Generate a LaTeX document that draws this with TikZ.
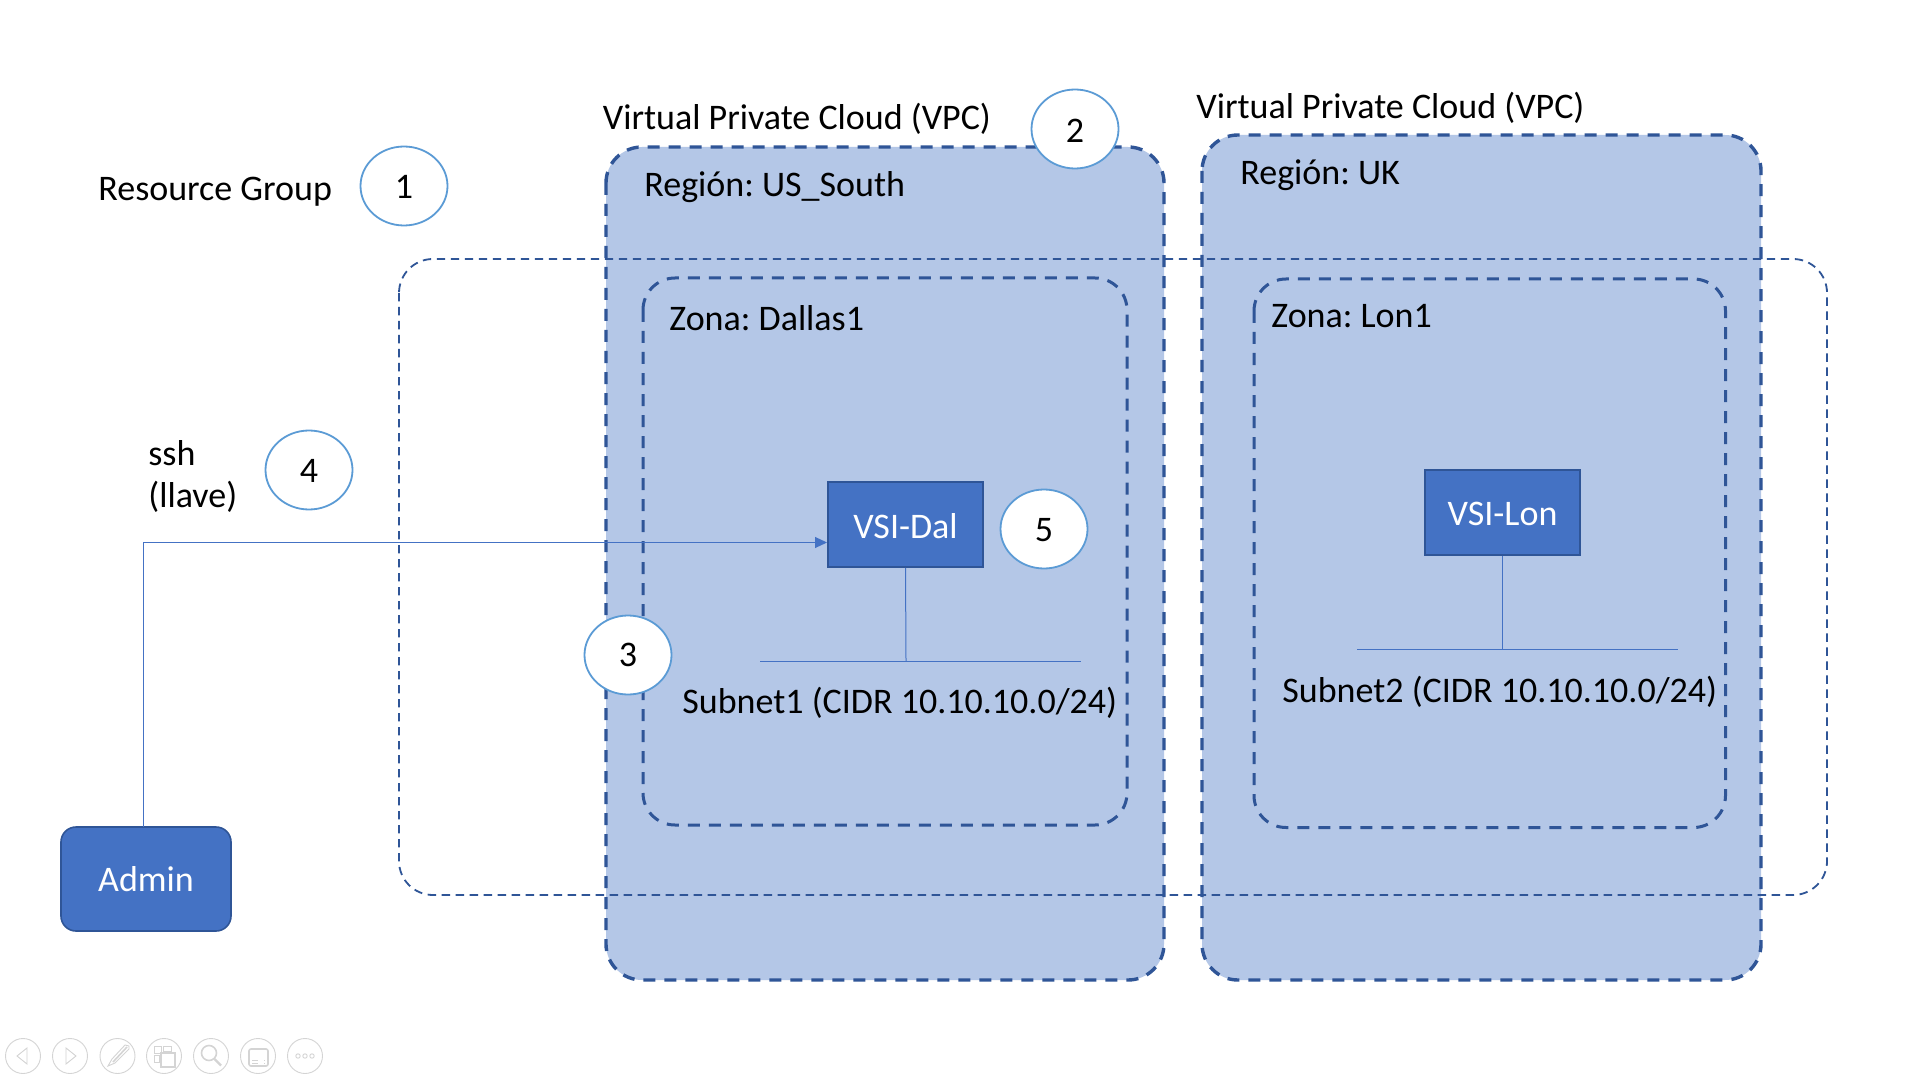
\documentclass[tikz,border=0pt]{standalone}
\usepackage{fontspec}
\setmainfont{Carlito}
\usetikzlibrary{arrows.meta,shapes.geometric}
\definecolor{vpcfill}{HTML}{B4C7E7}
\definecolor{dashblue}{HTML}{2F5597}
\definecolor{boxblue}{HTML}{4472C4}
\definecolor{ringblue}{HTML}{5B9BD5}
\definecolor{toolgray}{HTML}{D4D4D4}
\newcommand{\dn}[1]{\raisebox{-0.7pt}[\height][\depth]{#1}}
\tikzset{
  x=0.5pt,y=-0.5pt,
  vpcbox/.style={draw=dashblue,fill=vpcfill,line width=1.7pt,dash pattern=on 6pt off 4.5pt,rounded corners=18pt},
  zonebox/.style={draw=dashblue,line width=1.5pt,dash pattern=on 6pt off 4.5pt,rounded corners=16pt},
  rgbox/.style={draw=dashblue,line width=0.9pt,dash pattern=on 4.2pt off 2.8pt,rounded corners=17pt},
  lbl/.style={anchor=base west,inner sep=0pt,font=\fontsize{18}{18}\selectfont\frenchspacing,text=black},
  numcirc/.style={ellipse,draw=ringblue,fill=white,line width=0.9pt,minimum width=43.5pt,minimum height=39.5pt,inner sep=0pt,font=\fontsize{18}{18}\selectfont},
  vsibox/.style={draw=dashblue,fill=boxblue,line width=0.8pt,minimum width=77.5pt,minimum height=42.5pt,inner sep=0pt,text=white,font=\fontsize{18}{18}\selectfont},
  adminbox/.style={draw=dashblue,fill=boxblue,line width=0.8pt,rounded corners=7.5pt,minimum width=85pt,minimum height=52pt,inner sep=0pt,text=white,font=\fontsize{18}{18}\selectfont},
  conn/.style={draw=boxblue,line width=0.5pt},
  tool/.style={draw=toolgray,line width=0.45pt},
}
\begin{document}
\begin{tikzpicture}
\useasboundingbox (0,0) rectangle (1920,1080);
\fill[white] (0,0) rectangle (1920,1080);
% VPC panels
\draw[vpcbox] (606,147) rectangle (1164,980);
\draw[vpcbox] (1202,135) rectangle (1761,980);
% Zones
\draw[zonebox] (643,278) rectangle (1127,825);
\draw[zonebox] (1254,279) rectangle (1725.5,827.5);
% Resource group
\draw[rgbox] (399,259) rectangle (1827,895);
% Boxes
\node[vsibox] (vsidal) at (905.5,524.5) {\dn{VSI-Dal}};
\node[vsibox] (vsilon) at (1502.5,512.5) {\dn{VSI-Lon}};
\node[adminbox] (admin) at (146,879) {Admin};
% Subnet lines
\coordinate (s1l) at (760,661);
\coordinate (s1r) at (1081,661);
\coordinate (s1m) at (906,661);
\coordinate (s2l) at (1357,649);
\coordinate (s2r) at (1678,649);
\coordinate (s2m) at (1502.5,649);
\draw[conn] (s1l) -- (s1r);
\draw[conn] (s2l) -- (s2r);
\draw[conn] (vsidal.south) -- (s1m);
\draw[conn] (vsilon.south) -- (s2m);
% ssh connector
\coordinate (adminout) at (143.5,827);
\coordinate (dalin) at (827,542.5);
\draw[conn,-{Triangle[length=6pt,width=5.5pt]}] (adminout) |- (dalin);
% Labels
\node[lbl] (rg) at (98,200.5) {Resource Group};
\node[lbl] (vpc1) at (602.5,130) {Virtual Private Cloud (VPC)};
\node[lbl] (vpc2) at (1196,119) {Virtual Private Cloud (VPC)};
\node[lbl] (reg1) at (644,197) {Región: US\_South};
\node[lbl] (reg2) at (1240,185) {Región: UK};
\node[lbl] (zon1) at (669,330.5) {Zona: Dallas1};
\node[lbl] (zon2) at (1271,328) {Zona: Lon1};
\node[lbl] (ssh) at (148,465) {ssh};
\node[lbl] (llave) at (148,507.5) {(llave)};
\node[lbl] (sub1) at (682,713.5) {Subnet1 (CIDR 10.10.10.0/24)};
\node[lbl] (sub2) at (1282,702.5) {Subnet2 (CIDR 10.10.10.0/24)};
% Numbered circles
\node[numcirc] (c1) at (404,186) {\dn{1}};
\node[numcirc] (c2) at (1075,129) {\dn{2}};
\node[numcirc] (c3) at (628,655) {3};
\node[numcirc] (c4) at (309,470) {\dn{4}};
\node[numcirc] (c5) at (1044,529) {\dn{5}};
% Toolbar icons
\foreach \cx in {23,70,117.5,164,211,258,305}{\draw[tool] (\cx,1056) circle[radius=17.5];}
% prev
\draw[tool] (27,1048) -- (17,1056) -- (27,1064) -- cycle;
% next
\draw[tool] (66,1048) -- (76,1056) -- (66,1064) -- cycle;
% pen
\draw[tool,line width=0.8pt] (127,1047) -- (113,1062);
\draw[tool] (129,1046) -- (125,1045) -- (112,1059) -- (108,1066) -- (115,1063) -- (129,1049) -- cycle;
% slides
\draw[tool] (154,1046) rectangle (161,1053);
\draw[tool] (163,1046) rectangle (171,1051);
\draw[tool] (154,1055) rectangle (159,1062);
\draw[tool,line width=0.8pt] (161,1053) rectangle (175,1067);
% zoom
\draw[tool,line width=0.8pt] (209,1053) circle[radius=7.5];
\draw[tool,line width=1.1pt] (214.5,1059) -- (221,1065.5);
% subtitles
\draw[tool,line width=0.8pt,rounded corners=1pt] (249,1049) rectangle (268,1066);
\draw[tool,dashed] (252,1060) -- (265,1060);
\draw[tool,dashed] (252,1063) -- (265,1063);
% more
\draw[tool] (298,1056) circle[radius=2.2];
\draw[tool] (305,1056) circle[radius=2.2];
\draw[tool] (312,1056) circle[radius=2.2];
\end{tikzpicture}
\end{document}
